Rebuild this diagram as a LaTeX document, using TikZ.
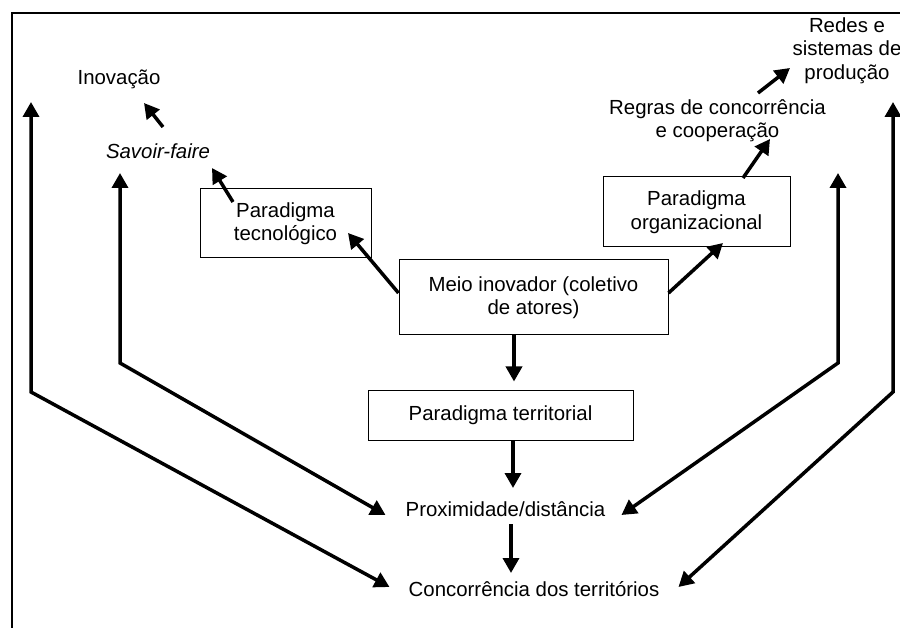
\documentclass[tikz,border=0pt]{standalone}
\usepackage{fontspec}
\setmainfont{Liberation Sans}
\usetikzlibrary{arrows.meta,calc}
\begin{document}
\begin{tikzpicture}[x=1pt,y=-1pt,
  lbl/.style={inner sep=0pt, align=center, font=\fontsize{20.4}{23.5}\selectfont},
  freelbl/.style={lbl, yshift=-1.5pt},
  boxn/.style={lbl, draw, line width=1pt},
  arr/.style={line width=3.5pt, -{Triangle[length=15pt,width=16pt]}},
  darr/.style={line width=3.5pt, {Triangle[length=15pt,width=16pt]}-{Triangle[length=15pt,width=16pt]}}]
\useasboundingbox (0,0) rectangle (900,628);
\fill[white] (0,0) rectangle (900,628);
\draw[line width=1.3pt] (12,640) -- (12,13) -- (910,13);

\node[freelbl] (inov) at (119,78) {Inovação};
\node[freelbl] (sav) at (158,150) {\itshape Savoir-faire};
\node[boxn, minimum width=171pt, minimum height=69pt] (ptec) at (285.5,223.5) {Paradigma\\tecnológico};
\node[boxn, minimum width=269pt, minimum height=75pt] (meio) at (533.5,297.5) {Meio inovador (coletivo\\de atores)};
\node[boxn, minimum width=187pt, minimum height=70pt] (porg) at (696.5,212) {Paradigma\\organizacional};
\node[freelbl] (regras) at (717.5,119) {Regras de concorrência\\e cooperação};
\node[freelbl] (redes) at (847,49) {Redes e\\sistemas de\\produção};
\node[boxn, minimum width=265pt, minimum height=49pt] (ter) at (500.5,415.5) {Paradigma territorial};
\node[freelbl] (prox) at (505.5,508) {Proximidade/distância};
\node[freelbl] (conc) at (534,588) {Concorrência dos territórios};

\draw[arr] ($(sav)+(5,-24.5)$) -- ($(inov)+(25,23.5)$);
\draw[arr] ($(ptec)+(-52.5,-21.5)$) -- ($(sav)+(54,16.5)$);
\draw[arr] ($(meio.west)+(0,-4.5)$) -- ($(ptec)+(62.5,9.5)$);
\draw[arr] ($(meio.east)+(0,-4.5)$) -- ($(porg)+(26.5,31)$);
\draw[arr] ($(porg)+(46.5,-34)$) -- ($(regras)+(52.5,18.5)$);
\draw[arr] ($(regras)+(40.5,-27.5)$) -- ($(redes)+(-57,17.5)$);
\draw[arr] ($(meio.south)+(-19.5,0)$) -- ($(ter.north)+(13.5,-9)$);
\draw[arr] ($(ter.south)+(12.5,0)$) -- ($(prox)+(7.5,-21.5)$);
\draw[arr] ($(prox)+(5.5,14.5)$) -- ($(conc)+(-23,-16.5)$);

\coordinate (l1) at (31,102);
\coordinate (l2) at (120,173);
\coordinate (r2) at (838,173);
\coordinate (r1) at (893,102);
\draw[darr] (l1) -- (31,392) -- ($(conc.west)+(-19,-2.5)$);
\draw[darr] (l2) -- (120,363) -- ($(prox.west)+(-20,5.5)$);
\draw[darr] (r2) -- (838,363) -- ($(prox.east)+(16,5.5)$);
\draw[darr] (r1) -- (893,392) -- ($(conc.east)+(19,-2.5)$);
\end{tikzpicture}
\end{document}
